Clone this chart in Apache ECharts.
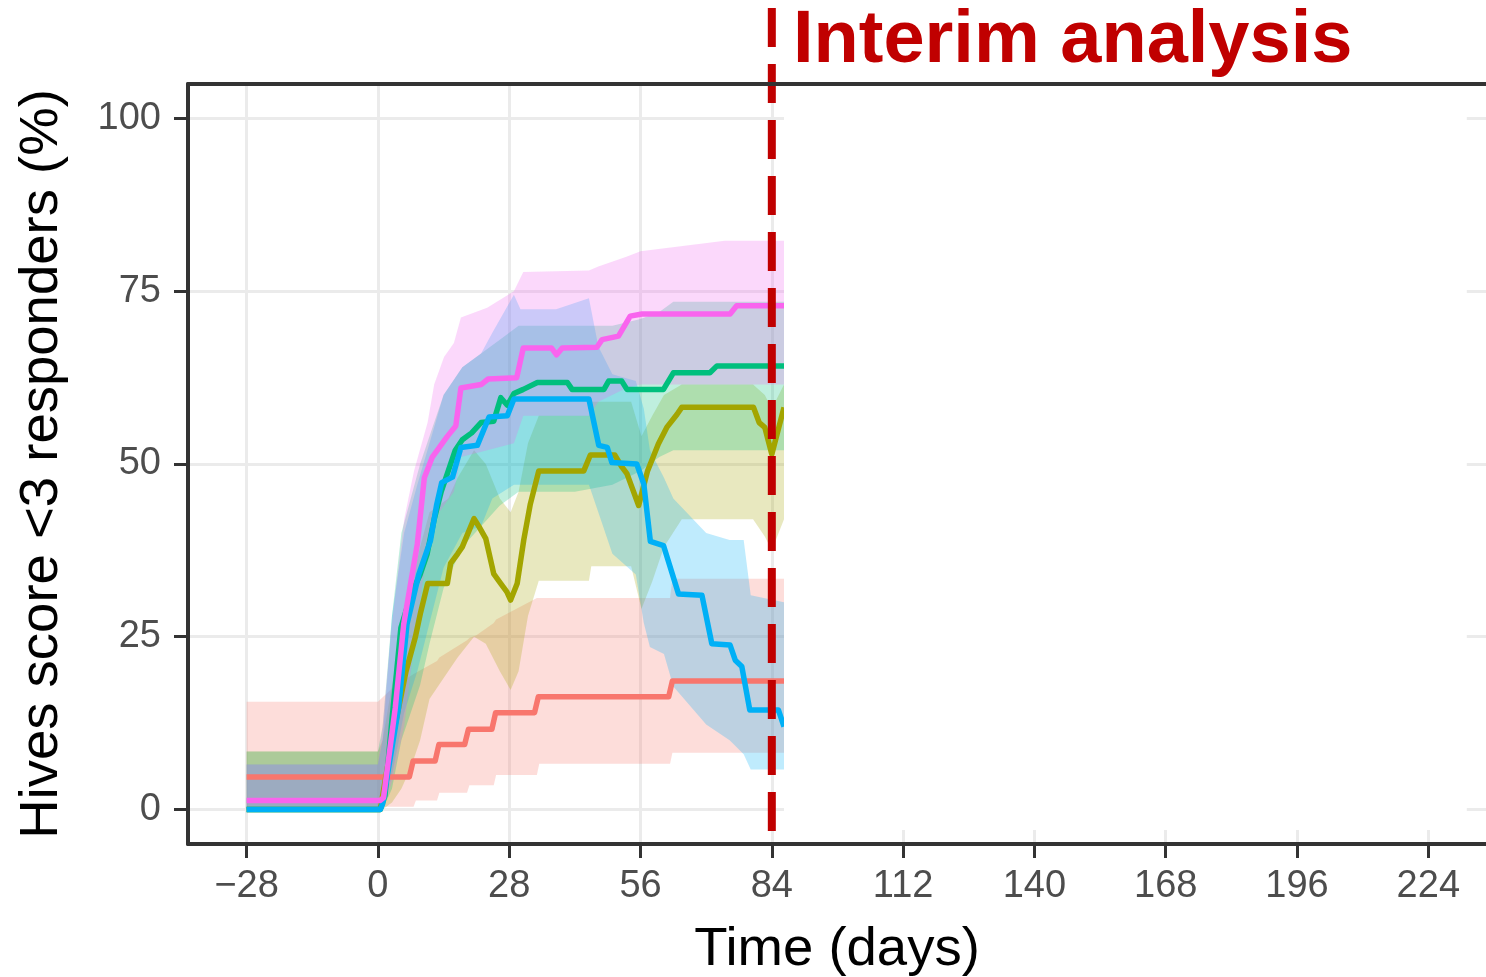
<!DOCTYPE html>
<html><head><meta charset="utf-8">
<script src="https://cdn.jsdelivr.net/npm/echarts@6/dist/echarts.min.js"></script>
<style>html,body{margin:0;padding:0;background:#fff}#c{width:1486px;height:977px}</style>
</head><body><div id="c"></div><script>
// ---- axis ticks ----
const xTicks = [-28, 0, 28, 56, 84, 112, 140, 168, 196, 224];
const yTicks = [0, 25, 50, 75, 100];
const xRange = [-40.5, 236.3];
const yRange = [-5, 105];

// ---- response lines: [day, % responders] ----
const lineRed = [[-28,4.7],[6.7,4.7],[7.5,7.0],[12.2,7.0],[13.0,9.4],[18.5,9.4],[19.3,11.6],[24.3,11.6],[25.1,14.0],[33.4,14.0],[34.2,16.3],[62.0,16.3],[62.8,18.6],[86.6,18.6]];
const lineOlive = [[-28,0],[0.5,0],[3,10],[6,20],[8,25],[9.1,28.5],[10.6,32.7],[14.8,32.7],[15.5,35.6],[17,37],[18,38],[20.5,42.1],[21.5,41],[23,39.2],[24.7,34.1],[26.2,32.7],[27.5,31.5],[28.3,30.3],[29.7,32.7],[31.1,39],[32.5,44.2],[34.3,49],[43.9,49],[45.3,51.3],[50.5,51.3],[52.1,49.5],[53.1,48.6],[55.6,44],[57.5,49],[59.8,52.9],[61.6,55.3],[63.8,57.2],[64.8,58.2],[80.1,58.2],[81.3,56],[82.5,55.3],[84,51.4],[86.6,58.2]];
const lineGreen = [[-28,0],[0.5,0],[1.5,2],[3,13],[4.9,26.3],[7,31],[9,34],[10.5,37],[12,42],[13.5,46],[15,49],[16.5,52],[18,53.5],[20,54.5],[22,56],[24.7,56.2],[26.2,59.6],[27.6,58.5],[29,60.2],[31,60.8],[34,61.8],[40.4,61.8],[41.4,60.8],[48.2,60.8],[49.2,62],[52,62],[53.1,60.8],[60.9,60.8],[63,63.2],[70.8,63.2],[72.3,64.2],[86.6,64.2]];
const lineBlue = [[-28,0],[0.5,0],[1,0.8],[4.4,14.7],[6.2,26.8],[8.7,34],[11.2,38.9],[12.5,44],[13.6,47.3],[15.9,48.1],[17.7,52.4],[21.2,52.7],[23.7,56.8],[27.6,57],[29,59.4],[45,59.4],[47.1,52.7],[48.9,52.4],[49.9,50.2],[55.2,50],[56.7,47.1],[58.1,38.8],[60.9,38.2],[64.1,31.2],[69.1,31],[71.2,24],[75.1,23.8],[76.2,21.6],[77.6,20.7],[79.3,14.4],[85.4,14.4],[86.6,12]];
const linePink = [[-28,1.3],[0.5,1.3],[1.2,1.7],[3.7,14.7],[5.5,26.8],[7.3,34],[8.4,38.4],[9.9,48],[11.6,51],[14.8,54],[16.6,55.5],[17.7,61],[22,61.5],[23.5,62.3],[29.6,62.5],[31,66.8],[37,66.8],[38.1,65.8],[39.3,66.8],[46.7,66.9],[47.8,68],[51.3,68.5],[53.8,71.4],[56.3,71.7],[75.1,71.7],[76.5,72.9],[86.6,72.9]];

// ---- confidence bands: [day, lower, upper] ----
const bandRed = [[-28,0.4,15.6],[0,0.4,15.6],[3,0.4,17.5],[7.6,0.4,19.6],[8.1,1.3,19.8],[12.6,1.3,21.5],[13.1,2.4,22],[19,2.4,24.5],[19.5,3.5,24.8],[21,3.5,25.2],[24.7,3.5,27],[25.2,5.0,27.5],[33.9,5.0,30.6],[34.4,6.6,30.6],[62.3,6.6,30.6],[62.8,8.2,33.4],[86.6,8.2,33.4]];
const bandOlive = [[-28,0,8.4],[0,0,8.4],[1,0,10],[3,1,18],[5,3,25],[7,6,32],[9,10,38],[11,16,43],[15,20,45],[17,22,48],[20.5,25,52],[23,24,50],[26,20,45],[28.3,17.3,43],[30,20,46],[32,28,53],[34.3,33.1,57],[45,33.1,57],[45.5,35.2,59],[54,35.2,59],[56.2,29,54],[58.5,33,57],[61,38,60],[64.8,42,61.5],[80,42,61.5],[82.5,39.5,60],[84,37.5,58],[86.6,42,61.5]];
const bandGreen = [[-28,0,8.4],[0,0,8.4],[1,0,12],[3,3,28],[5,10,40],[7,14,45],[9,18,50],[11,24,54],[14,32,60],[18,38,64],[22,41,66],[26,44,68],[30,46,70],[42,46,70],[50,47,70],[56,49,71],[60,51,72],[63,52,73.5],[86.6,52,73.5]];
const bandBlue = [[-28,0,6.5],[0,0,6.5],[1,0,10],[3,5,28],[5.6,14,40],[8.4,20,47],[11,27,53],[14,35,60],[18,40,64],[22,41,66],[24.4,45,69],[29,47,74.5],[30.4,47,72.4],[38,47,72.4],[45,47,74],[47,43,67],[50,37,63],[55,34,62],[56.7,27,58],[58,23.5,52],[61,22.5,48],[63,17.8,45],[70,12.3,40],[75,10,39],[78,8,39],[79.5,5.8,31],[86.6,5.8,30]];
const bandPink = [[-28,0,6.5],[0,0,6.5],[1,0,12],[3,4,27],[5.6,12,42],[7.7,24,49],[10.6,38,56],[12,42,61.5],[14.1,44,65.5],[16.2,46,67.5],[17.7,51,71.2],[23.3,52,72.6],[29,53,75],[31,57,77.8],[45,57,78],[47,59,78.6],[53,61,80],[56,61.5,80.8],[74,61.5,82.3],[86.6,61.5,82.3]];

const interimDay = [84];
const interimSpan = [-3.26, 116];
const maskBox = [86.6, 232.2, -2.97, 105];

const groups = [
  {name:'Group 1', line: lineRed,   band: bandRed,   color:'#F8766D', fill:'rgba(248,118,109,0.25)'},
  {name:'Group 2', line: lineOlive, band: bandOlive, color:'#A3A500', fill:'rgba(163,165,0,0.25)'},
  {name:'Group 3', line: lineGreen, band: bandGreen, color:'#00BF7D', fill:'rgba(0,191,125,0.25)'},
  {name:'Group 4', line: lineBlue,  band: bandBlue,  color:'#00B0F6', fill:'rgba(0,176,246,0.25)'},
  {name:'Group 5', line: linePink,  band: bandPink,  color:'#F964EE', fill:'rgba(240,100,240,0.25)'}
];

const FONT = 'Liberation Sans, Arial, sans-serif';
const chart = echarts.init(document.getElementById('c'), null, {renderer:'canvas'});

function bandSeries(g) {
  const pts = g.band;
  return {
    type:'custom', name: g.name + ' CI', xAxisIndex:0, yAxisIndex:0, z:2, clip:true, silent:true,
    data: pts, encode:{x:0, y:[1,2]},
    renderItem: function (params, api) {
      if (params.dataIndex !== 0) return null;
      const top = pts.map(p => api.coord([p[0], p[2]]));
      const bot = pts.slice().reverse().map(p => api.coord([p[0], p[1]]));
      return {type:'polygon', shape:{points: top.concat(bot)}, style:{fill: g.fill}};
    }
  };
}
function lineSeries(g) {
  return {
    type:'line', name:g.name, xAxisIndex:0, yAxisIndex:0, z:3, data:g.line,
    showSymbol:false, symbol:'none', silent:true,
    lineStyle:{color:g.color, width:5.5, cap:'butt', join:'round'}
  };
}

const series = [];
groups.forEach(g => series.push(bandSeries(g)));
groups.forEach(g => series.push(lineSeries(g)));
series.push({
  type:'custom', name:'mask', xAxisIndex:0, yAxisIndex:0, z:5, clip:false, silent:true,
  data:[maskBox], encode:{x:[0,1], y:[2,3]},
  renderItem: function (params, api) {
    const tl = api.coord([maskBox[0], maskBox[3]]);
    const br = api.coord([maskBox[1], maskBox[2]]);
    return {type:'rect', shape:{x:tl[0], y:tl[1], width:br[0]-tl[0], height:br[1]-tl[1]}, style:{fill:'#ffffff'}};
  }
});
series.push({
  type:'custom', name:'interim', xAxisIndex:0, yAxisIndex:0, z:6, clip:false, silent:true,
  data:[interimDay], encode:{x:0},
  renderItem: function (params, api) {
    const p0 = api.coord([interimDay[0], interimSpan[1]]);
    const p1 = api.coord([interimDay[0], interimSpan[0]]);
    return {type:'line', shape:{x1:p0[0], y1:p0[1], x2:p1[0], y2:p1[1]},
      style:{stroke:'#C00000', lineWidth:8, lineDash:[39,17], lineCap:'butt'}};
  }
});

const fmtX = v => v < 0 ? '\u2212' + (-v) : String(v);

chart.setOption({
  animation:false,
  backgroundColor:'#ffffff',
  title:{text:'Interim analysis', left:793, top:5, padding:0,
    textStyle:{color:'#C00000', fontSize:74, fontWeight:'bold', fontFamily:FONT}},
  grid:{left:188, top:84, width:1298, height:760, containLabel:false, outerBoundsMode:'none'},
  xAxis:[
    {type:'value', min:xRange[0], max:xRange[1], position:'bottom', z:0,
      axisLine:{show:false, onZero:false}, axisTick:{show:false, customValues:xTicks},
      axisLabel:{show:false, customValues:xTicks},
      splitLine:{show:true, lineStyle:{color:'#EBEBEB', width:3}}},
    {type:'value', min:xRange[0], max:xRange[1], position:'bottom', z:10,
      axisLine:{show:true, onZero:false, lineStyle:{color:'#333333', width:4}},
      axisTick:{show:true, length:14, customValues:xTicks, lineStyle:{color:'#333333', width:3}},
      axisLabel:{customValues:xTicks, formatter:fmtX, margin:24, fontSize:38, color:'#4D4D4D', fontFamily:FONT},
      splitLine:{show:false},
      name:'Time (days)', nameLocation:'middle', nameGap:78,
      nameTextStyle:{fontSize:54.5, color:'#000000', fontFamily:FONT}},
    {type:'value', min:xRange[0], max:xRange[1], position:'top', z:10,
      axisLine:{show:true, onZero:false, lineStyle:{color:'#333333', width:4}},
      axisTick:{show:false}, axisLabel:{show:false}, splitLine:{show:false}}
  ],
  yAxis:[
    {type:'value', min:yRange[0], max:yRange[1], position:'left', z:0,
      axisLine:{show:false, onZero:false}, axisTick:{show:false, customValues:yTicks},
      axisLabel:{show:false, customValues:yTicks},
      splitLine:{show:true, lineStyle:{color:'#EBEBEB', width:3}}},
    {type:'value', min:yRange[0], max:yRange[1], position:'left', z:10,
      axisLine:{show:true, onZero:false, lineStyle:{color:'#333333', width:4}},
      axisTick:{show:true, length:14, customValues:yTicks, lineStyle:{color:'#333333', width:3}},
      axisLabel:{customValues:yTicks, margin:27, fontSize:38, color:'#4D4D4D', fontFamily:FONT},
      splitLine:{show:false},
      name:'Hives score <3 responders (%)', nameLocation:'middle', nameGap:119, nameRotate:90,
      nameTextStyle:{fontSize:54.5, color:'#000000', fontFamily:FONT}}
  ],
  series: series
});
</script></body></html>
